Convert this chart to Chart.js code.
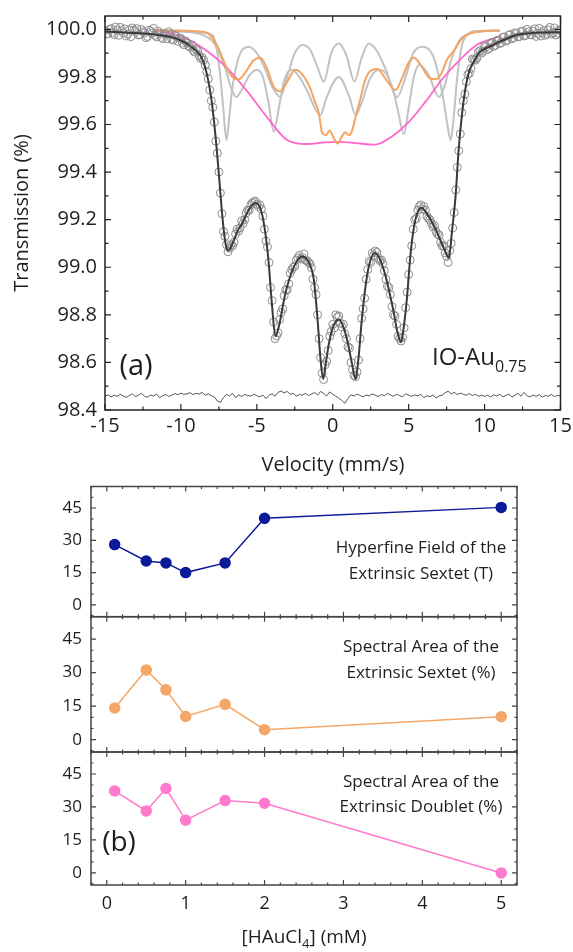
<!doctype html>
<html>

<head>
    <meta charset="utf-8">
    <title>IO-Au Mössbauer</title>
    <script src="https://cdn.jsdelivr.net/npm/chart.js"></script>
    <style>
        body { margin: 0; background: #fff; }
        #quadro { position: relative; width: 573px; height: 952px; }
        #quadro canvas { position: absolute; left: 0; }
    </style>
</head>

<body>
    <div id="quadro">
        <canvas id="espectro" width="573" height="480" style="top:0px"></canvas>
        <canvas id="campo" width="573" height="145" style="top:480px"></canvas>
        <canvas id="areaSexteto" width="573" height="150" style="top:610px"></canvas>
        <canvas id="areaDubleto" width="573" height="207" style="top:745px"></canvas>
    </div>

    <script>
        // ---------- (a) espectro ----------
        var vel = [-15, -14.8, -14.6, -14.4, -14.2, -14, -13.8, -13.6, -13.4, -13.2,
            -13, -12.8, -12.6, -12.4, -12.2, -12, -11.8, -11.6, -11.4, -11.2,
            -11, -10.8, -10.6, -10.4, -10.2, -10, -9.8, -9.6, -9.4, -9.2,
            -9, -8.8, -8.6, -8.4, -8.2, -8, -7.8, -7.6, -7.4, -7.2,
            -7, -6.8, -6.6, -6.4, -6.2, -6, -5.8, -5.6, -5.4, -5.2,
            -5, -4.8, -4.6, -4.4, -4.2, -4, -3.8, -3.6, -3.4, -3.2,
            -3, -2.8, -2.6, -2.4, -2.2, -2, -1.8, -1.6, -1.4, -1.2,
            -1, -0.8, -0.6, -0.4, -0.2, 0, 0.2, 0.4, 0.6, 0.8,
            1, 1.2, 1.4, 1.6, 1.8, 2, 2.2, 2.4, 2.6, 2.8,
            3, 3.2, 3.4, 3.6, 3.8, 4, 4.2, 4.4, 4.6, 4.8,
            5, 5.2, 5.4, 5.6, 5.8, 6, 6.2, 6.4, 6.6, 6.8,
            7, 7.2, 7.4, 7.6, 7.8, 8, 8.2, 8.4, 8.6, 8.8,
            9, 9.2, 9.4, 9.6, 9.8, 10, 10.2, 10.4, 10.6, 10.8,
            11, 11.2, 11.4, 11.6, 11.8, 12, 12.2, 12.4, 12.6, 12.8,
            13, 13.2, 13.4, 13.6, 13.8, 14, 14.2, 14.4, 14.6, 14.8,
            15]

        var trans = [99.995, 99.982, 100.003, 99.978, 99.996, 100.008, 99.985, 99.972, 99.997, 100.006,
            99.990, 99.976, 99.999, 99.985, 99.970, 99.992, 100.004, 99.968, 99.983, 99.961,
            99.979, 99.990, 99.958, 99.975, 99.950, 99.962, 99.935, 99.944, 99.925, 99.912,
            99.916, 99.890, 99.881, 99.850, 99.792, 99.700, 99.610, 99.480, 99.312, 99.150,
            99.095, 99.080, 99.090, 99.140, 99.152, 99.195, 99.200, 99.240, 99.262, 99.275,
            99.265, 99.262, 99.215, 99.110, 99.020, 98.860, 98.700, 98.725, 98.810, 98.880,
            98.905, 98.975, 99.000, 99.030, 99.050, 99.040, 99.030, 99.020, 98.998, 98.915,
            98.800, 98.620, 98.528, 98.605, 98.710, 98.760, 98.800, 98.795, 98.750, 98.720,
            98.665, 98.600, 98.545, 98.560, 98.700, 98.825, 98.950, 99.025, 99.060, 99.068,
            99.040, 99.030, 98.985, 98.920, 98.885, 98.800, 98.760, 98.700, 98.705, 98.830,
            98.970, 99.090, 99.200, 99.240, 99.262, 99.255, 99.215, 99.200, 99.170, 99.150,
            99.135, 99.090, 99.060, 99.020, 99.100, 99.230, 99.420, 99.560, 99.700, 99.780,
            99.815, 99.875, 99.870, 99.905, 99.900, 99.930, 99.915, 99.940, 99.928, 99.952,
            99.940, 99.966, 99.950, 99.975, 99.960, 99.985, 99.968, 99.990, 99.972, 100.000,
            99.978, 99.992, 99.970, 100.004, 99.985, 99.975, 99.998, 99.980, 100.006, 99.984,
            99.995]

        // canais intermediarios
        var velMeio = [-14.9, -14.7, -14.5, -14.3, -14.1, -13.9, -13.7, -13.5, -13.3, -13.1,
            -12.9, -12.7, -12.5, -12.3, -12.1, -11.9, -11.7, -11.5, -11.3, -11.1,
            -10.9, -10.7, -10.5, -10.3, -10.1, -9.9, -9.7, -9.5, -9.3, -9.1,
            -8.9, -8.7, -8.5, -8.3, -8.1, -7.9, -7.7, -7.5, -7.3, -7.1,
            -6.9, -6.7, -6.5, -6.3, -6.1, -5.9, -5.7, -5.5, -5.3, -5.1,
            -4.9, -4.7, -4.5, -4.3, -4.1, -3.9, -3.7, -3.5, -3.3, -3.1,
            -2.9, -2.7, -2.5, -2.3, -2.1, -1.9, -1.7, -1.5, -1.3, -1.1,
            -0.9, -0.7, -0.5, -0.3, -0.1, 0.1, 0.3, 0.5, 0.7, 0.9,
            1.1, 1.3, 1.5, 1.7, 1.9, 2.1, 2.3, 2.5, 2.7, 2.9,
            3.1, 3.3, 3.5, 3.7, 3.9, 4.1, 4.3, 4.5, 4.7, 4.9,
            5.1, 5.3, 5.5, 5.7, 5.9, 6.1, 6.3, 6.5, 6.7, 6.9,
            7.1, 7.3, 7.5, 7.7, 7.9, 8.1, 8.3, 8.5, 8.7, 8.9,
            9.1, 9.3, 9.5, 9.7, 9.9, 10.1, 10.3, 10.5, 10.7, 10.9,
            11.1, 11.3, 11.5, 11.7, 11.9, 12.1, 12.3, 12.5, 12.7, 12.9,
            13.1, 13.3, 13.5, 13.7, 13.9, 14.1, 14.3, 14.5, 14.7, 14.9]

        var transMeio = [99.980, 99.999, 99.986, 100.010, 99.975, 99.994, 100.002, 99.980, 99.969, 99.996,
            100.003, 99.978, 99.990, 99.965, 99.996, 99.984, 99.975, 99.992, 99.966, 99.982,
            99.960, 99.978, 99.955, 99.970, 99.963, 99.942, 99.951, 99.930, 99.935, 99.905,
            99.910, 99.878, 99.870, 99.822, 99.745, 99.672, 99.530, 99.400, 99.225, 99.130,
            99.065, 99.095, 99.105, 99.160, 99.165, 99.185, 99.228, 99.240, 99.270, 99.278,
            99.255, 99.245, 99.160, 99.085, 98.915, 98.770, 98.712, 98.780, 98.825, 98.905,
            98.930, 98.990, 99.005, 99.040, 99.035, 99.055, 99.028, 99.015, 98.950, 98.885,
            98.700, 98.555, 98.590, 98.650, 98.730, 98.745, 98.790, 98.765, 98.760, 98.700,
            98.660, 98.570, 98.540, 98.610, 98.785, 98.870, 98.990, 99.020, 99.050, 99.062,
            99.028, 99.015, 98.950, 98.915, 98.835, 98.795, 98.710, 98.690, 98.745, 98.895,
            99.030, 99.160, 99.205, 99.255, 99.245, 99.240, 99.205, 99.185, 99.175, 99.140,
            99.105, 99.090, 99.045, 99.070, 99.165, 99.325, 99.490, 99.650, 99.728, 99.810,
            99.835, 99.872, 99.880, 99.910, 99.908, 99.927, 99.920, 99.945, 99.933, 99.955,
            99.944, 99.968, 99.955, 99.978, 99.965, 99.982, 99.970, 99.993, 99.975, 99.990,
            99.977, 100.002, 99.983, 99.972, 99.995, 99.980, 100.008, 99.986, 99.976, 99.997]

        var residuo = [98.458, 98.464, 98.455, 98.462, 98.457, 98.466, 98.459, 98.453, 98.461, 98.468,
            98.456, 98.462, 98.470, 98.458, 98.454, 98.463, 98.459, 98.467, 98.452, 98.460,
            98.465, 98.457, 98.462, 98.469, 98.464, 98.471, 98.466, 98.468, 98.473, 98.465,
            98.470, 98.467, 98.474, 98.462, 98.468, 98.460, 98.455, 98.438, 98.432, 98.452,
            98.466, 98.459, 98.470, 98.452, 98.463, 98.457, 98.465, 98.461, 98.458, 98.466,
            98.460, 98.455, 98.463, 98.448, 98.462, 98.468, 98.458, 98.474, 98.480, 98.472,
            98.478, 98.466, 98.470, 98.458, 98.465, 98.462, 98.470, 98.461, 98.467, 98.474,
            98.463, 98.478, 98.470, 98.459, 98.476, 98.466, 98.458, 98.450, 98.440, 98.428,
            98.448, 98.464, 98.458, 98.467, 98.461, 98.455, 98.463, 98.459, 98.468, 98.462,
            98.457, 98.465, 98.460, 98.470, 98.463, 98.458, 98.466, 98.461, 98.455, 98.468,
            98.462, 98.457, 98.464, 98.459, 98.466, 98.452, 98.460, 98.456, 98.463, 98.450,
            98.459, 98.462, 98.472, 98.479, 98.468, 98.474, 98.465, 98.471, 98.466, 98.462,
            98.469, 98.461, 98.466, 98.458, 98.463, 98.457, 98.462, 98.455, 98.464, 98.459,
            98.466, 98.456, 98.461, 98.467, 98.454, 98.462, 98.470, 98.458, 98.474, 98.460,
            98.455, 98.463, 98.457, 98.465, 98.454, 98.461, 98.458, 98.466, 98.456, 98.462,
            98.459]

        // curva de ajuste total
        var ajusteV = [-15, -14, -13, -12, -11, -10.5, -10, -9.5, -9, -8.75,
            -8.5, -8.25, -8, -7.75, -7.5, -7.25, -7.05, -6.86, -6.6, -6.25,
            -6, -5.5, -5.1, -4.75, -4.5, -4.25, -4, -3.78, -3.5, -3.25,
            -3, -2.5, -2.02, -1.5, -1.25, -1, -0.8, -0.63, -0.45, -0.25,
            0, 0.4, 0.75, 1, 1.25, 1.5, 1.7, 1.9, 2.16, 2.4,
            2.77, 3.1, 3.47, 3.75, 4.02, 4.25, 4.5, 4.7, 4.9, 5.1,
            5.3, 5.55, 5.85, 6.25, 6.77, 7.32, 7.65, 7.85, 8.09, 8.3,
            8.64, 8.97, 9.3, 9.62, 10, 10.5, 11, 12, 13, 14,
            15]
        var ajusteT = [99.99, 99.988, 99.985, 99.98, 99.972, 99.965, 99.953, 99.935, 99.91, 99.893,
            99.86, 99.8, 99.71, 99.57, 99.39, 99.2, 99.095, 99.07, 99.1, 99.155,
            99.18, 99.245, 99.27, 99.245, 99.17, 99.04, 98.84, 98.71, 98.765, 98.85,
            98.92, 99.01, 99.045, 99.01, 98.95, 98.78, 98.61, 98.53, 98.6, 98.68,
            98.745, 98.78, 98.74, 98.68, 98.6, 98.53, 98.62, 98.77, 98.92, 99.01,
            99.06, 99.035, 98.965, 98.89, 98.81, 98.73, 98.685, 98.76, 98.88, 99.04,
            99.15, 99.225, 99.25, 99.22, 99.16, 99.08, 99.04, 99.15, 99.3, 99.5,
            99.71, 99.82, 99.865, 99.9, 99.918, 99.932, 99.948, 99.974, 99.984, 99.987,
            99.988]

        // subespectros
        var cinzaAV = [-11.8, -10, -9, -8.4, -7.9, -7.6, -7.4, -7.2, -7.0, -6.8, -6.6, -6.3, -6.0, -5.54, -5.0, -4.5,
            -4.0, -3.45, -3.0, -2.5, -2.0, -1.5, -1.0, -0.59, -0.1, 0.4, 0.9, 1.43, 1.9, 2.37, 2.9, 3.5,
            4.24, 4.8, 5.3, 5.9, 6.6, 7.0, 7.3, 7.55, 7.76, 7.95, 8.2, 8.5, 8.9, 9.5, 11]
        var cinzaAT = [99.995, 99.994, 99.99, 99.985, 99.975, 99.90, 99.80, 99.66, 99.534, 99.64, 99.76, 99.86, 99.91, 99.927, 99.90, 99.84,
            99.76, 99.716, 99.80, 99.90, 99.934, 99.915, 99.84, 99.78, 99.90, 99.94, 99.89, 99.78, 99.88, 99.94, 99.91, 99.83,
            99.716, 99.80, 99.90, 99.927, 99.89, 99.80, 99.70, 99.60, 99.534, 99.62, 99.80, 99.93, 99.98, 99.993, 99.995]

        var cinzaBV = [-11.8, -9, -8.2, -7.8, -7.4, -7.0, -6.7, -6.35, -6.0, -5.5, -5.0, -4.6, -4.25, -3.89, -3.55,
            -3.2, -2.7, -2.2, -1.6, -1.15, -0.81, -0.4, 0.4, 1.1, 1.5, 1.9, 2.4, 3.0, 3.5,
            4.0, 4.35, 4.68, 5.0, 5.34, 5.7, 6.3, 7.0, 7.4, 7.8, 8.3, 8.86, 9.5, 11]
        var cinzaBT = [99.993, 99.985, 99.965, 99.94, 99.89, 99.82, 99.755, 99.716, 99.745, 99.805, 99.83, 99.80, 99.70, 99.57, 99.67,
            99.785, 99.83, 99.80, 99.73, 99.665, 99.64, 99.715, 99.80, 99.715, 99.64, 99.69, 99.785, 99.83, 99.815,
            99.74, 99.64, 99.56, 99.67, 99.80, 99.85, 99.81, 99.716, 99.77, 99.87, 99.95, 99.98, 99.99, 99.993]

        var laranjaV = [-11.8, -8.5, -8.0, -7.6, -7.2, -6.8, -6.5, -6.2, -5.8, -5.2, -4.77, -4.3, -3.9, -3.45, -3.0, -2.46, -2.0,
            -1.47, -1.2, -0.92, -0.7, -0.45, -0.2, 0.05, 0.33, 0.6, 0.84, 1.05, 1.25, 1.5, 1.83, 2.1, 2.4, 2.93,
            3.5, 4.13, 4.6, 5.0, 5.34, 5.8, 6.3, 6.77, 7.2, 7.5, 7.98, 8.5, 9.08, 10, 11]
        var laranjaT = [99.995, 99.99, 99.97, 99.93, 99.87, 99.815, 99.795, 99.79, 99.815, 99.87, 99.88, 99.83, 99.76, 99.74, 99.78, 99.83, 99.81,
            99.75, 99.70, 99.65, 99.565, 99.555, 99.575, 99.545, 99.52, 99.55, 99.567, 99.555, 99.57, 99.63, 99.71, 99.78, 99.82, 99.833,
            99.79, 99.745, 99.80, 99.86, 99.88, 99.85, 99.80, 99.79, 99.82, 99.87, 99.91, 99.96, 99.983, 99.993, 99.995]

        var rosaV = [-11.8, -10.5, -9.6, -8.3, -7.0, -5.64, -4.32, -3.0, -1.7, -0.5, 0.5, 1.5, 2.8, 3.9, 5.0, 6.1, 7.2, 8.5, 9.5, 10.5, 11]
        var rosaT = [99.994, 99.98, 99.96, 99.91, 99.84, 99.74, 99.63, 99.535, 99.518, 99.525, 99.527, 99.522, 99.515, 99.55, 99.61, 99.695, 99.79, 99.88, 99.935, 99.96, 99.97]

        var velTicks = [-15, -10, -5, 0, 5, 10, 15]
        var velMenor = [-12.5, -7.5, -2.5, 2.5, 7.5, 12.5]
        var transTicks = [98.4, 98.6, 98.8, 99.0, 99.2, 99.4, 99.6, 99.8, 100.0]
        var transMenor = [98.5, 98.7, 98.9, 99.1, 99.3, 99.5, 99.7, 99.9]

        // ---------- (b) parametros ----------
        var conc = [0.1, 0.5, 0.75, 1, 1.5, 2, 5]
        var campoHF = [28, 20.4, 19.5, 15, 19.5, 40.2, 45.3]
        var areaSext = [14.2, 31.2, 22.3, 10.4, 15.8, 4.5, 10.3]
        var areaDub = [37.3, 28.2, 38.4, 24, 32.9, 31.7, 0]
        var concTicks = [0, 1, 2, 3, 4, 5]
        var percTicks = [0, 15, 30, 45]
        var percMenor = [-5, 5, 10, 20, 25, 35, 40, 50]

        Chart.defaults.font.family = 'Open Sans'
        Chart.defaults.color = '#1e1e1e'

        function pares(xs, ys) {
            return xs.map(function (x, i) { return { x: x, y: ys[i] } })
        }

        function passos(ini, fim, passo) {
            var l = []
            for (var v = ini; v <= fim + 1e-9; v += passo) l.push(Math.round(v * 1000) / 1000)
            return l
        }

        // tira o espaco extra que o chart.js reserva para os rotulos das pontas
        function semFolga(s) {
            s.paddingTop = 0; s.paddingBottom = 0; s.paddingLeft = 0; s.paddingRight = 0
        }

        function escrever(ctx, t) {
            ctx.save()
            ctx.translate(t.x, t.y)
            if (t.rot) ctx.rotate(t.rot)
            ctx.fillStyle = '#1e1e1e'
            ctx.textBaseline = 'middle'
            ctx.textAlign = 'left'
            var total = 0
            t.partes.forEach(function (p) { ctx.font = p.f; total += ctx.measureText(p.t).width })
            var x0 = t.alinha == 'left' ? 0 : -total / 2
            t.partes.forEach(function (p) {
                ctx.font = p.f
                ctx.fillText(p.t, x0, p.dy || 0)
                x0 += ctx.measureText(p.t).width
            })
            ctx.restore()
        }

        function textos(lista) {
            return {
                id: 'textos',
                afterDraw: function (chart) {
                    lista.forEach(function (t) { escrever(chart.ctx, t) })
                }
            }
        }

        // moldura com marcas para dentro nos quatro lados
        function moldura(cfg) {
            return {
                id: 'moldura',
                afterDraw: function (chart) {
                    var ctx = chart.ctx, a = chart.chartArea
                    var sx = chart.scales.x, sy = chart.scales.y
                    ctx.save()
                    ctx.strokeStyle = cfg.cor
                    ctx.lineWidth = 1.2
                    ctx.beginPath()
                    function vert(lista, len) {
                        lista.forEach(function (v) {
                            if (v < sx.min || v > sx.max) return
                            var p = sx.getPixelForValue(v)
                            ctx.moveTo(p, a.bottom); ctx.lineTo(p, a.bottom - len)
                            ctx.moveTo(p, a.top); ctx.lineTo(p, a.top + len)
                        })
                    }
                    function hor(lista, len) {
                        lista.forEach(function (v) {
                            if (v < sy.min || v > sy.max) return
                            var p = sy.getPixelForValue(v)
                            ctx.moveTo(a.left, p); ctx.lineTo(a.left + len, p)
                            ctx.moveTo(a.right, p); ctx.lineTo(a.right - len, p)
                        })
                    }
                    vert(cfg.xMaior, cfg.maior); vert(cfg.xMenor, cfg.menor)
                    hor(cfg.yMaior, cfg.maior); hor(cfg.yMenor, cfg.menor)
                    ctx.stroke()
                    ctx.lineWidth = cfg.borda
                    ctx.strokeRect(a.left, a.top, a.right - a.left, a.bottom - a.top)
                    ctx.restore()
                }
            }
        }

        function curva(xs, ys, cor, larg, ordem) {
            return {
                data: pares(xs, ys), borderColor: cor, borderWidth: larg, pointRadius: 0,
                cubicInterpolationMode: 'monotone', fill: false, order: ordem
            }
        }

        function pontos(xs, ys, ordem) {
            return {
                data: pares(xs, ys), showLine: false, pointRadius: 4, pointBorderWidth: 1,
                pointBorderColor: '#8c8c8c', pointBackgroundColor: 'rgba(255,255,255,0)', order: ordem
            }
        }

        var espectro = new Chart(document.getElementById('espectro'), {
            type: 'line',
            data: {
                datasets: [
                    curva(ajusteV, ajusteT, '#3a3a3a', 2, 0),
                    pontos(vel, trans, 1),
                    pontos(velMeio, transMeio, 1),
                    {
                        data: pares(vel, residuo), borderColor: '#555', borderWidth: 1, pointRadius: 0,
                        tension: 0, order: 2
                    },
                    curva(laranjaV, laranjaT, '#f4a460', 2, 3),
                    curva(rosaV, rosaT, '#ff66cc', 1.8, 4),
                    curva(cinzaAV, cinzaAT, '#c2c2c2', 2, 5),
                    curva(cinzaBV, cinzaBT, '#c2c2c2', 2, 6)
                ]
            },
            options: {
                responsive: false,
                animation: false,
                layout: { padding: { left: 0, top: 16, right: 12.5, bottom: 0 } },
                plugins: { legend: { display: false }, tooltip: { enabled: false } },
                scales: {
                    x: {
                        type: 'linear', min: -15, max: 15,
                        grid: { display: false, drawTicks: false }, border: { display: false },
                        afterFit: function (s) { s.height = 70; semFolga(s) },
                        afterBuildTicks: function (s) { s.ticks = velTicks.map(function (v) { return { value: v } }) },
                        ticks: { autoSkip: false, maxRotation: 0, padding: 4, font: { size: 20 } }
                    },
                    y: {
                        min: 98.4, max: 100.056,
                        grid: { display: false, drawTicks: false }, border: { display: false },
                        afterFit: function (s) { s.width = 105; semFolga(s) },
                        afterBuildTicks: function (s) { s.ticks = transTicks.map(function (v) { return { value: v } }) },
                        ticks: { autoSkip: false, padding: 8, font: { size: 20 }, callback: function (v) { return v.toFixed(1) } }
                    }
                }
            },
            plugins: [
                moldura({ cor: '#222', borda: 1.5, maior: 6, menor: 3.5, xMaior: velTicks, xMenor: velMenor, yMaior: transTicks, yMenor: transMenor }),
                textos([
                    { x: 136, y: 367, partes: [{ t: '(a)', f: '29px Open Sans' }] },
                    { x: 432, y: 358, alinha: 'left', partes: [{ t: 'IO-Au', f: '24px Open Sans' }, { t: '0.75', f: '16px Open Sans', dy: 9 }] },
                    { x: 333, y: 465, partes: [{ t: 'Velocity (mm/s)', f: '20px Open Sans' }] },
                    { x: 22, y: 213, rot: -Math.PI / 2, partes: [{ t: 'Transmission (%)', f: '20px Open Sans' }] }
                ])
            ]
        })

        var concMenor = passos(-0.2, 5.2, 0.2)

        function painel(id, valores, cor, pad, eixoX, extras) {
            return new Chart(document.getElementById(id), {
                type: 'line',
                data: {
                    datasets: [{
                        data: pares(conc, valores), borderColor: cor, borderWidth: 1.5, tension: 0,
                        pointRadius: 5, pointBackgroundColor: cor, pointBorderColor: cor
                    }]
                },
                options: {
                    responsive: false,
                    animation: false,
                    layout: { padding: pad },
                    plugins: { legend: { display: false }, tooltip: { enabled: false } },
                    scales: {
                        x: {
                            type: 'linear', min: -0.2, max: 5.2, display: eixoX,
                            grid: { display: false, drawTicks: false }, border: { display: false },
                            afterFit: function (s) { if (eixoX) s.height = 67; semFolga(s) },
                            afterBuildTicks: function (s) { s.ticks = concTicks.map(function (v) { return { value: v } }) },
                            ticks: { autoSkip: false, maxRotation: 0, padding: 8, font: { size: 18 } }
                        },
                        y: {
                            min: -5.5, max: 55,
                            grid: { display: false, drawTicks: false }, border: { display: false },
                            afterFit: function (s) { s.width = 91; semFolga(s) },
                            afterBuildTicks: function (s) { s.ticks = percTicks.map(function (v) { return { value: v } }) },
                            ticks: { autoSkip: false, padding: 9, font: { size: 17 } }
                        }
                    }
                },
                plugins: [
                    moldura({ cor: '#444', borda: 1.5, maior: 5, menor: 2.5, xMaior: concTicks, xMenor: concMenor, yMaior: percTicks, yMenor: percMenor }),
                    textos(extras)
                ]
            })
        }

        var fTexto = '17px Open Sans'

        painel('campo', campoHF, '#0b1a99', { left: 0, top: 6, right: 56, bottom: 8.3 }, false, [
            { x: 421, y: 68, partes: [{ t: 'Hyperfine Field of the', f: fTexto }] },
            { x: 421, y: 94, partes: [{ t: 'Extrinsic Sextet (T)', f: fTexto }] }
        ])

        painel('areaSexteto', areaSext, '#f4a766', { left: 0, top: 6.7, right: 56, bottom: 8 }, false, [
            { x: 421, y: 36.7, partes: [{ t: 'Spectral Area of the', f: fTexto }] },
            { x: 421, y: 63.3, partes: [{ t: 'Extrinsic Sextet (%)', f: fTexto }] }
        ])

        painel('areaDubleto', areaDub, '#ff7acd', { left: 0, top: 7, right: 56, bottom: 0 }, true, [
            { x: 421, y: 36.7, partes: [{ t: 'Spectral Area of the', f: fTexto }] },
            { x: 421, y: 61.7, partes: [{ t: 'Extrinsic Doublet (%)', f: fTexto }] },
            { x: 119, y: 98, partes: [{ t: '(b)', f: '28px Open Sans' }] },
            { x: 304, y: 193, partes: [{ t: '[HAuCl', f: '19px Open Sans' }, { t: '4', f: '13px Open Sans', dy: 6 }, { t: '] (mM)', f: '19px Open Sans' }] }
        ])
    </script>
</body>

</html>
